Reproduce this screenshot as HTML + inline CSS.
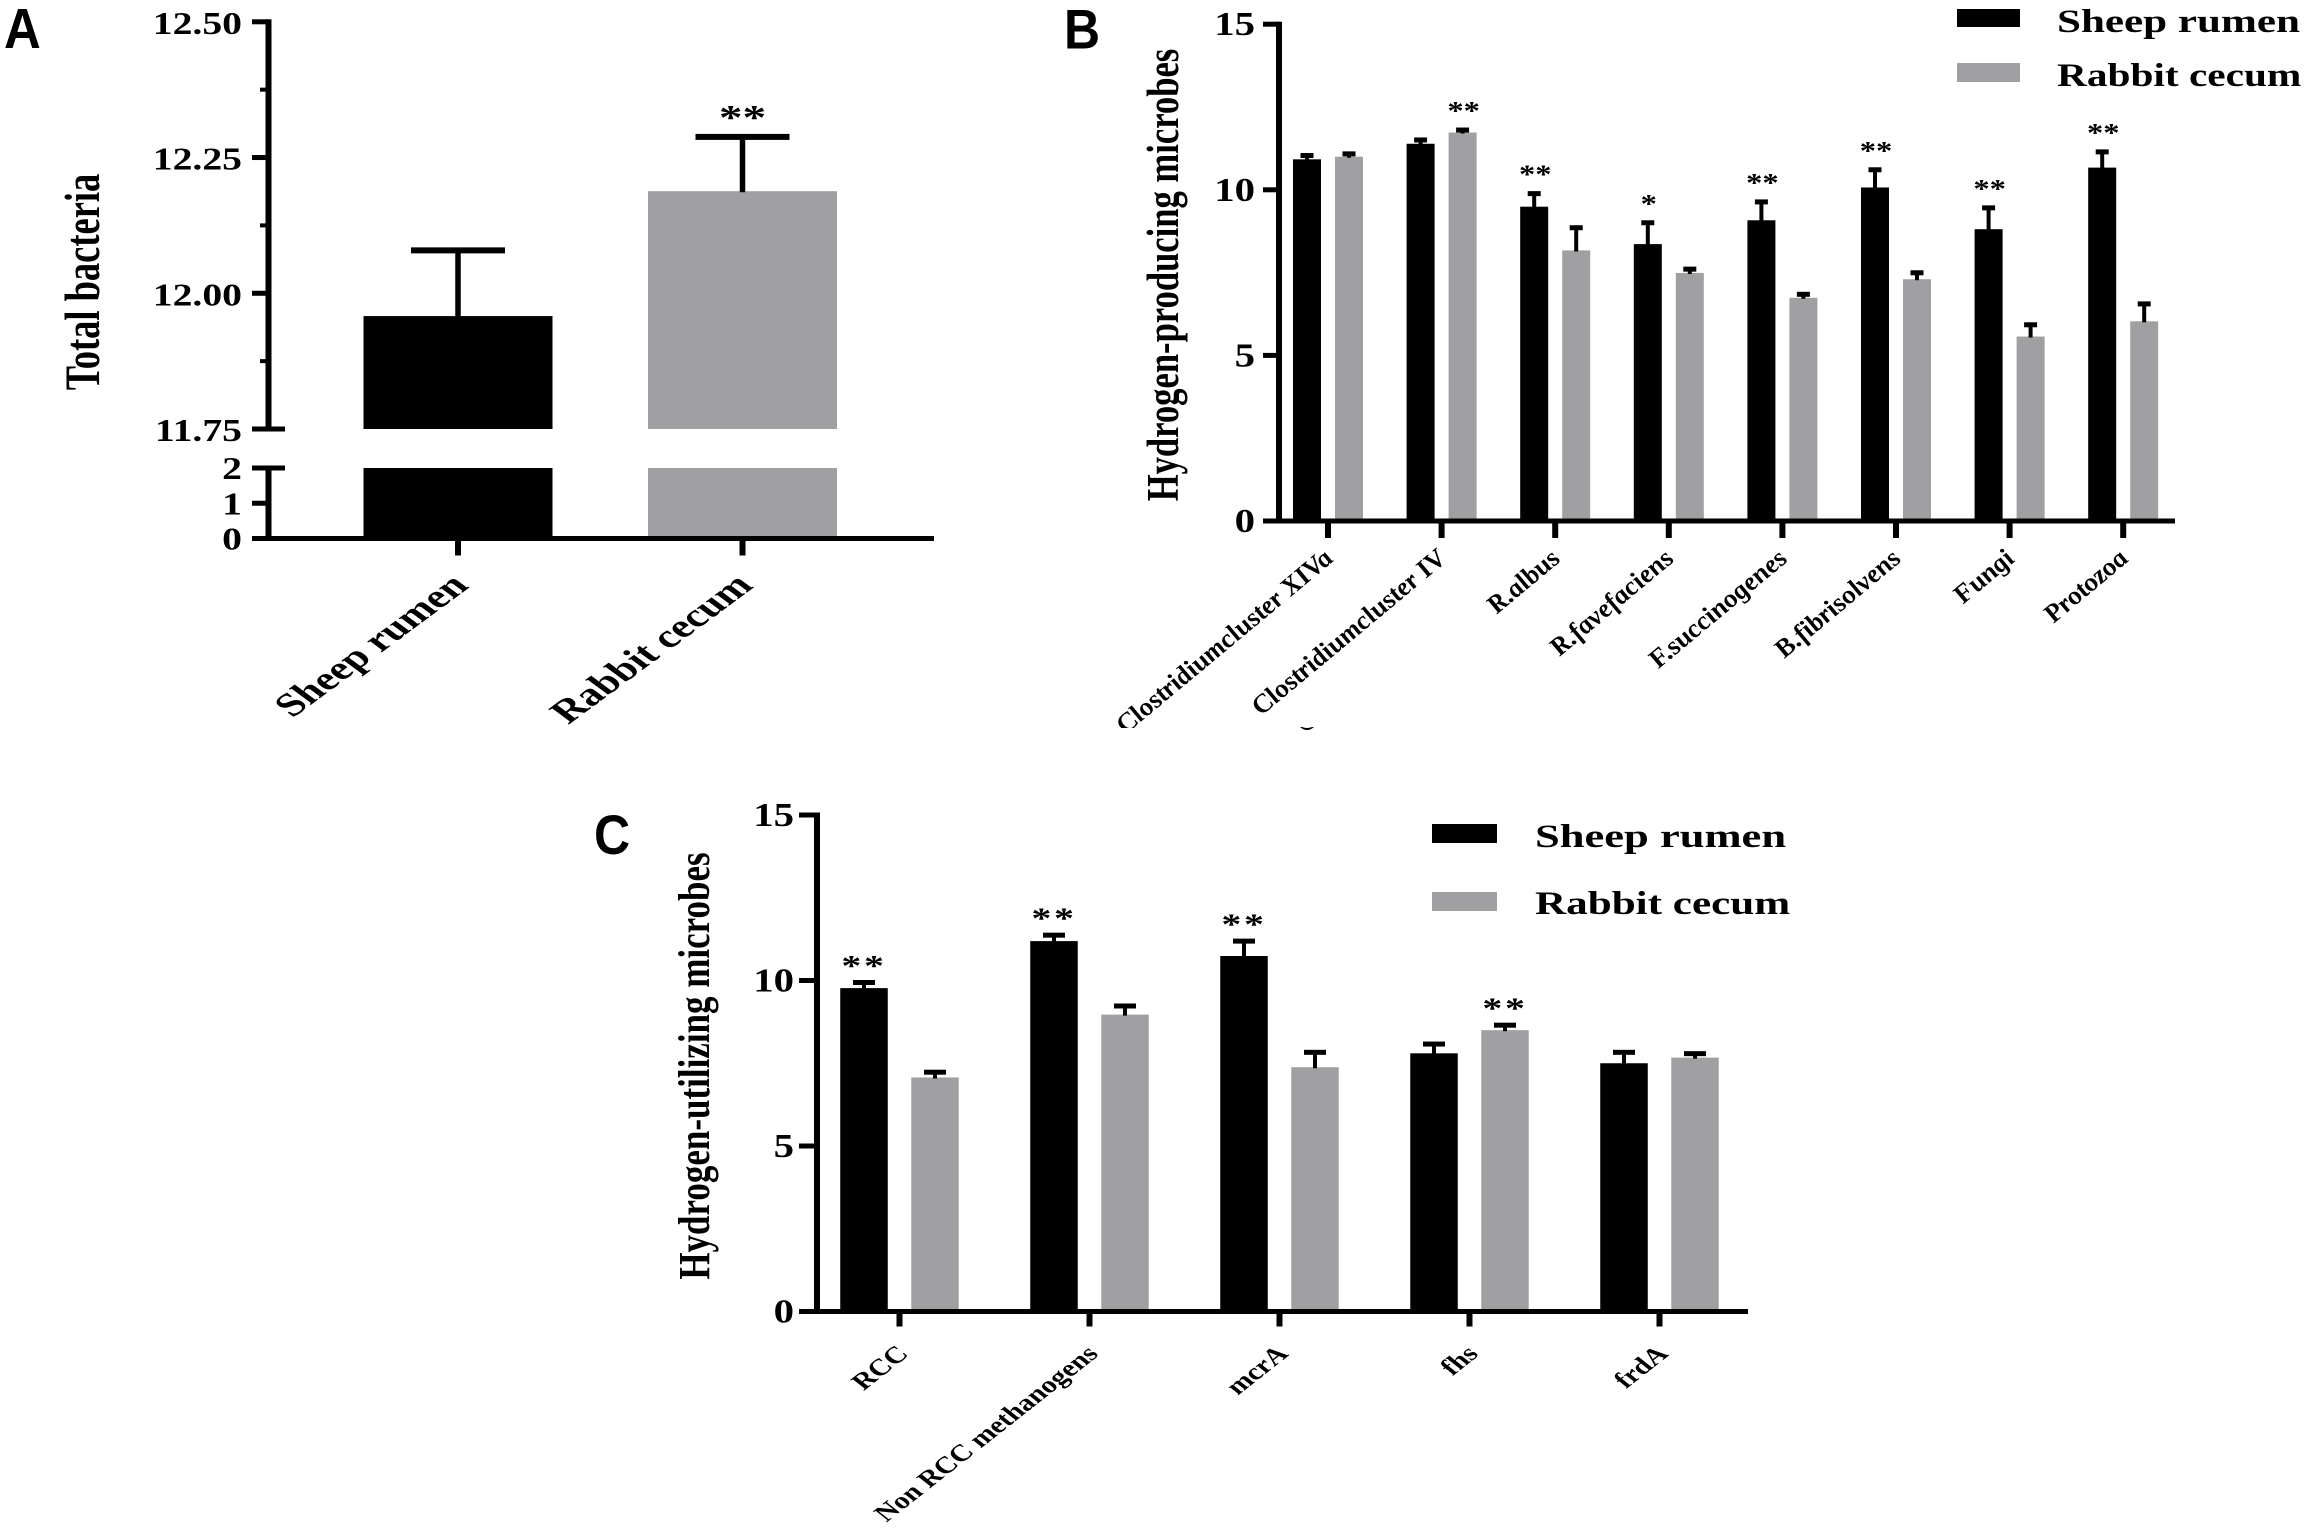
<!DOCTYPE html>
<html lang="en">
<head>
<meta charset="utf-8">
<title>Total bacteria, hydrogen-producing and hydrogen-utilizing microbes</title>
<style>
  html, body { margin: 0; padding: 0; background: #fff; }
  svg { display: block; }
  text { font-family: "Liberation Serif", serif; font-weight: bold; fill: #000; }
  .panel-letter { font-family: "Liberation Sans", sans-serif; font-size: 50px; }
</style>
</head>
<body>
<svg id="figure" xmlns="http://www.w3.org/2000/svg" width="2310" height="1535" viewBox="0 0 2310 1535">
  <defs>
    <clipPath id="clip-b-labels"><rect x="1100" y="530" width="1100" height="198"></rect></clipPath>
  </defs>
  <rect x="0" y="0" width="2310" height="1535" fill="#fff"></rect>

  <g id="panel-a">
    <text class="panel-letter" transform="translate(4 48) scale(1.02 1.14)">A</text>
    <text font-size="36.5" text-anchor="middle" transform="translate(99 282) scale(1.35 1) rotate(-90)">Total bacteria</text>
  </g>

  <g id="panel-b">
    <text class="panel-letter" transform="translate(1064 48.5) scale(1 1.12)">B</text>
    <text font-size="34.6" text-anchor="middle" transform="translate(1178 275) scale(1.3 1) rotate(-90)">Hydrogen-producing microbes</text>
    <g>
      <rect x="1957" y="9" width="63" height="18" fill="#000"></rect>
      <text font-size="33" transform="translate(2057 32) scale(1.35 1)" textLength="180" lengthAdjust="spacingAndGlyphs">Sheep rumen</text>
      <rect x="1957" y="63" width="63" height="19" fill="#a0a0a3"></rect>
      <text font-size="33" transform="translate(2057 86) scale(1.35 1)" textLength="181" lengthAdjust="spacingAndGlyphs">Rabbit cecum</text>
    </g>
    <path d="M1300 727 Q1307 733 1314 727 L1312 727 Q1307 729 1302 727 Z" fill="#000"></path>
  </g>

  <g id="panel-c">
    <text class="panel-letter" transform="translate(594 854) scale(1 1.12)">C</text>
    <text font-size="35" text-anchor="middle" transform="translate(709 1066) scale(1.28 1) rotate(-90)">Hydrogen-utilizing microbes</text>
    <g>
      <rect x="1432" y="824" width="65" height="19" fill="#000"></rect>
      <text font-size="33" transform="translate(1535 847) scale(1.35 1)" textLength="186" lengthAdjust="spacingAndGlyphs">Sheep rumen</text>
      <rect x="1432" y="892" width="65" height="19" fill="#a0a0a3"></rect>
      <text font-size="33" transform="translate(1535 914) scale(1.35 1)" textLength="189" lengthAdjust="spacingAndGlyphs">Rabbit cecum</text>
    </g>
  </g>
</svg>

<script>
// ---------- Panel A data ----------
const categoriesA = ['Sheep rumen', 'Rabbit cecum'];
const valuesA = [11.958, 12.188];
const errorTopsA = [12.079, 12.288];
const starsA = ['', '**'];
const upperTicksA = ['11.75', '12.00', '12.25', '12.50'];
const upperMinorTicksA = [11.875, 12.125, 12.375];
const lowerTicksA = ['0', '1', '2'];

// ---------- Panel B data ----------
const categoriesB = ['Clostridiumcluster XIVa', 'Clostridiumcluster IV', 'R.albus', 'R.favefaciens', 'F.succinogenes', 'B.fibrisolvens', 'Fungi', 'Protozoa'];
const sheepB = [10.92, 11.39, 9.49, 8.36, 9.08, 10.07, 8.81, 10.67];
const rabbitB = [11.0, 11.73, 8.17, 7.49, 6.74, 7.3, 5.57, 6.03];
const sheepErrorTopsB = [11.08, 11.55, 9.93, 9.05, 9.68, 10.65, 9.5, 11.19];
const rabbitErrorTopsB = [11.13, 11.85, 8.9, 7.65, 6.89, 7.54, 5.97, 6.6];
const sheepStarsB = ['', '', '**', '*', '**', '**', '**', '**'];
const rabbitStarsB = ['', '**', '', '', '', '', '', ''];
const yTicksB = ['0', '5', '10', '15'];

// ---------- Panel C data ----------
const categoriesC = ['RCC', 'Non RCC methanogens', 'mcrA', 'fhs', 'frdA'];
const sheepC = [9.77, 11.19, 10.74, 7.8, 7.5];
const rabbitC = [7.07, 8.97, 7.38, 8.5, 7.67];
const sheepErrorTopsC = [9.97, 11.4, 11.22, 8.11, 7.86];
const rabbitErrorTopsC = [7.26, 9.26, 7.86, 8.68, 7.82];
const sheepStarsC = ['**', '**', '**', '', ''];
const rabbitStarsC = ['', '', '', '**', ''];
const yTicksC = ['0', '5', '10', '15'];

const SVG_NS = 'http://www.w3.org/2000/svg';
const BLACK = '#000';
const GREY = '#a0a0a3';

function rectEl(parent, x, y, w, h, fill) {
  const el = document.createElementNS(SVG_NS, 'rect');
  el.setAttribute('x', x);
  el.setAttribute('y', y);
  el.setAttribute('width', w);
  el.setAttribute('height', h);
  el.setAttribute('fill', fill);
  parent.appendChild(el);
  return el;
}

function textEl(parent, str, x, y, size, sx, rot, anchor) {
  const el = document.createElementNS(SVG_NS, 'text');
  el.textContent = str;
  el.setAttribute('font-size', size);
  el.setAttribute('text-anchor', anchor);
  el.setAttribute('transform', 'translate(' + x + ' ' + y + ') scale(' + sx + ' 1) rotate(' + rot + ')');
  parent.appendChild(el);
  return el;
}

function groupEl(parent) {
  const el = document.createElementNS(SVG_NS, 'g');
  parent.appendChild(el);
  return el;
}

// Draws one error bar (stem + cap) between two pixel heights.
function drawError(parent, cx, yBar, yCap, stemW, capW, capH, capShift, key) {
  const stem = rectEl(parent, cx - stemW / 2, yCap + capShift, stemW, yBar - yCap - capShift + 1, BLACK);
  
  
  const cap = rectEl(parent, cx - capW / 2, yCap + capShift - capH / 2, capW, capH, BLACK);
  
  
}

// ---------- Panel A ----------
(function drawPanelA() {
  const panel = document.getElementById('panel-a');
  const yUpper = v => 429 - (v - 11.75) * (429 - 21.8) / 0.75;
  const yLower = v => 538.5 - v * (538.5 - 468) / 2;
  const xCenter = i => 458 + i * 284.5;
  const barW = 189;

  const bars = groupEl(panel);
  
  
  categoriesA.forEach((name, i) => {
    const fill = i === 0 ? BLACK : GREY;
    const lower = rectEl(bars, xCenter(i) - barW / 2, yLower(2), barW, yLower(0) - yLower(2), fill);
    
    
    const upper = rectEl(bars, xCenter(i) - barW / 2, yUpper(valuesA[i]), barW, yUpper(11.75) - yUpper(valuesA[i]), fill);
    
    
    drawError(bars, xCenter(i), yUpper(valuesA[i]), yUpper(errorTopsA[i]), 5.5, 94, 6, 0, 'a-' + i);
    if (starsA[i]) {
      const star = textEl(bars, starsA[i], xCenter(i), yUpper(errorTopsA[i]) - 8, 35, 1.35, 0, 'middle');
      
      
    }
  });

  const axis = groupEl(panel);
  
  
  const axisX = 268.5;
  const upLine = rectEl(axis, axisX - 3, yUpper(12.5) - 2.5, 6, yUpper(11.75) - yUpper(12.5) + 5, BLACK);
  
  
  const lowLine = rectEl(axis, axisX - 3, yLower(2) - 2.5, 6, yLower(0) - yLower(2) + 5, BLACK);
  
  
  const xLine = rectEl(axis, 252, yLower(0) - 2.5, 682, 5, BLACK);
  
  

  upperTicksA.forEach(label => {
    const v = parseFloat(label);
    const right = v === 11.75 ? 285 : axisX;
    const tick = rectEl(axis, 252, yUpper(v) - 2.5, right - 252, 5, BLACK);
    
    
    const t = textEl(axis, label, 242, yUpper(v) + 12, 31.5, 1.26, 0, 'end');
    
    
  });
  upperMinorTicksA.forEach(v => {
    const tick = rectEl(axis, 260, yUpper(v) - 2, 9, 4, BLACK);
    
    
  });
  lowerTicksA.forEach(label => {
    const v = parseFloat(label);
    const right = v === 2 ? 285 : axisX;
    const tick = rectEl(axis, 252, yLower(v) - 2.5, right - 252, 5, BLACK);
    
    
    const t = textEl(axis, label, 242, yLower(v) + 11, 31.5, 1.26, 0, 'end');
    
    
  });
  categoriesA.forEach((name, i) => {
    const tick = rectEl(axis, xCenter(i) - 3, yLower(0), 6, 17, BLACK);
    
    
    const t = textEl(axis, name, xCenter(i) + 12, 587, 33, 1.35, -45, 'end');
    
    
  });
})();

// ---------- Panels B and C share the grouped-bar layout ----------
function drawGrouped(o) {
  const panel = document.getElementById(o.panelId);
  const y = v => o.y0 - v * (o.y0 - o.y15) / 15;
  const xTick = i => o.x0 + i * o.step;

  const bars = groupEl(panel);
  
  
  o.categories.forEach((name, i) => {
    const series = [
      { vals: o.sheep, tops: o.sheepTops, stars: o.sheepStars, fill: BLACK, cx: xTick(i) - o.offset, id: 'sheep' },
      { vals: o.rabbit, tops: o.rabbitTops, stars: o.rabbitStars, fill: GREY, cx: xTick(i) + o.offset, id: 'rabbit' }
    ];
    series.forEach(s => {
      const bar = rectEl(bars, s.cx - o.barW / 2, y(s.vals[i]), o.barW, y(0) - y(s.vals[i]), s.fill);
      
      
      drawError(bars, s.cx, y(s.vals[i]), y(s.tops[i]), o.stemW, o.capW, 5, o.capShift, o.key + '-' + s.id + '-' + i);
      if (s.stars[i]) {
        const star = textEl(bars, s.stars[i], s.cx + o.starDx, y(s.tops[i]) - o.starGap, o.starSize, o.starSx, 0, 'middle');
        star.setAttribute('letter-spacing', o.starSpacing);
        
        
      }
    });
  });

  const axis = groupEl(panel);
  
  
  const yLine = rectEl(axis, o.axisX - 3, y(15) - 2.5, 6, y(0) - y(15) + 5, BLACK);
  
  
  const xLine = rectEl(axis, o.tickLeft, y(0) - 2.5, o.axisRight - o.tickLeft, 5, BLACK);
  
  

  o.yTicks.forEach(label => {
    const v = parseFloat(label);
    const tick = rectEl(axis, o.tickLeft, y(v) - 2.5, o.axisX - o.tickLeft, 5, BLACK);
    
    
    const t = textEl(axis, label, o.tickLabelRight, y(v) + 11, 34, 1.2, 0, 'end');
    
    
  });

  const labels = groupEl(axis);
  
  
  if (o.clip) labels.setAttribute('clip-path', 'url(#' + o.clip + ')');
  o.categories.forEach((name, i) => {
    const tick = rectEl(axis, xTick(i) - 3, y(0), 6, o.tickLen, BLACK);
    
    
    const t = textEl(labels, name, xTick(i) + o.labelDx, o.labelY, o.labelSize, o.labelSx, -45, 'end');
    
    
    if (o.labelItalic) t.setAttribute('font-style', 'italic');
  });
}

drawGrouped({
  panelId: 'panel-b', key: 'b',
  categories: categoriesB, sheep: sheepB, rabbit: rabbitB,
  sheepTops: sheepErrorTopsB, rabbitTops: rabbitErrorTopsB,
  sheepStars: sheepStarsB, rabbitStars: rabbitStarsB, yTicks: yTicksB,
  y0: 521, y15: 24.2, x0: 1328, step: 113.6, offset: 21, barW: 28,
  stemW: 4, capW: 13, capShift: 1.5, starGap: 9, starSize: 26, starSx: 1.25, starDx: 1, starSpacing: 0,
  axisX: 1279, tickLeft: 1263, axisRight: 2175, tickLabelRight: 1255, tickLen: 17,
  labelDx: 7, labelY: 560, labelSize: 24.5, labelSx: 1.2, labelItalic: true, clip: 'clip-b-labels'
});

drawGrouped({
  panelId: 'panel-c', key: 'c',
  categories: categoriesC, sheep: sheepC, rabbit: rabbitC,
  sheepTops: sheepErrorTopsC, rabbitTops: rabbitErrorTopsC,
  sheepStars: sheepStarsC, rabbitStars: rabbitStarsC, yTicks: yTicksC,
  y0: 1311.5, y15: 815, x0: 899.5, step: 190, offset: 35.5, barW: 47.5,
  stemW: 4, capW: 22, capShift: 1, starGap: 6, starSize: 30, starSx: 1.33, starDx: 0, starSpacing: 2,
  axisX: 817, tickLeft: 799, axisRight: 1748, tickLabelRight: 794, tickLen: 15,
  labelDx: 10, labelY: 1355, labelSize: 23.6, labelSx: 1.27, labelItalic: false, clip: null
});
</script>
</body>
</html>
